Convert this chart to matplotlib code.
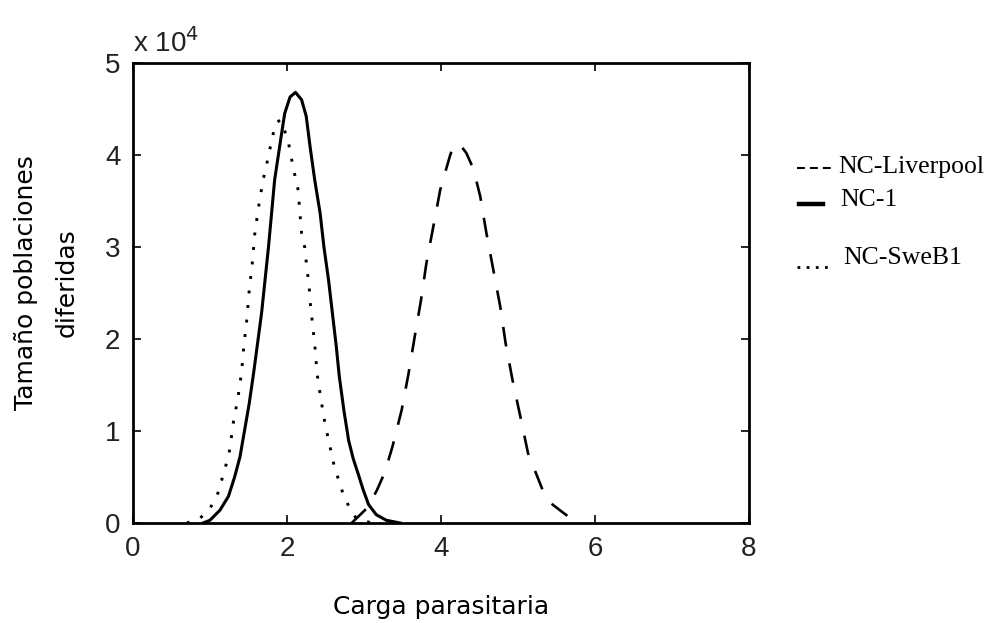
import matplotlib
matplotlib.use("Agg")
import matplotlib.pyplot as plt
from matplotlib.lines import Line2D
from matplotlib.ticker import FuncFormatter

# curve readings, x = carga parasitaria, y = tamaño (unidades de 1e4)
nc1_x = [0.91, 1.00, 1.13, 1.24, 1.32, 1.39, 1.45, 1.51, 1.57, 1.67, 1.76, 1.84, 1.91,
         1.97, 2.04, 2.11, 2.19, 2.25, 2.30, 2.36, 2.43, 2.48, 2.54, 2.59, 2.64, 2.68,
         2.74, 2.80, 2.86, 2.93, 2.99, 3.06, 3.16, 3.29, 3.47]
nc1_y = [0.00, 0.03, 0.14, 0.29, 0.50, 0.72, 1.01, 1.30, 1.65, 2.28, 3.00, 3.73, 4.12,
         4.45, 4.63, 4.68, 4.60, 4.42, 4.09, 3.73, 3.37, 3.00, 2.64, 2.28, 1.92, 1.59,
         1.22, 0.90, 0.70, 0.52, 0.36, 0.20, 0.09, 0.03, 0.00]

swe_x = [0.70, 0.87, 1.00, 1.09, 1.14, 1.19, 1.24, 1.27, 1.29, 1.32, 1.36, 1.38, 1.41,
         1.44, 1.48, 1.51, 1.55, 1.58, 1.63, 1.69, 1.73, 1.77, 1.81, 1.84, 1.91, 2.00,
         2.04, 2.07, 2.11, 2.15, 2.16, 2.19, 2.23, 2.25, 2.29, 2.30, 2.34, 2.36, 2.39,
         2.44, 2.49, 2.54, 2.58, 2.62, 2.68, 2.73, 2.81, 2.90, 3.10]
swe_y = [0.00, 0.05, 0.16, 0.29, 0.43, 0.58, 0.72, 0.87, 1.02, 1.18, 1.33, 1.47, 1.63,
         1.93, 2.22, 2.53, 2.83, 3.13, 3.43, 3.73, 3.87, 4.04, 4.17, 4.33, 4.38, 4.20,
         4.05, 3.91, 3.75, 3.60, 3.45, 3.15, 3.00, 2.84, 2.55, 2.41, 2.10, 1.95, 1.63,
         1.35, 1.10, 0.90, 0.75, 0.59, 0.45, 0.31, 0.17, 0.05, 0.00]

liv_x = [2.84, 3.05, 3.17, 3.27, 3.37, 3.49, 3.58, 3.66, 3.74, 3.81, 3.90, 3.99, 4.12,
         4.16, 4.24, 4.33, 4.42, 4.51, 4.59, 4.68, 4.77, 4.84, 4.93, 5.03, 5.13, 5.31,
         5.45, 5.59, 5.72]
liv_y = [0.00, 0.17, 0.36, 0.55, 0.83, 1.23, 1.63, 2.03, 2.42, 2.82, 3.22, 3.62, 4.00,
         4.09, 4.12, 4.02, 3.85, 3.55, 3.15, 2.75, 2.35, 1.95, 1.55, 1.16, 0.76, 0.38,
         0.20, 0.11, 0.03]

legend_names = ["NC-Liverpool", "NC-1", "NC-SweB1"]

SCALE = 1e4
x_ticks = [0, 2, 4, 6, 8]
y_ticks = [0, 1, 2, 3, 4, 5]

fig = plt.figure(figsize=(9.96, 6.23), dpi=100)
ax = fig.add_axes([0.1335, 0.1605, 0.6185, 0.7385])

ax.plot(liv_x, [v * SCALE for v in liv_y], color="black", lw=1.9,
        linestyle=(0, (7.5, 6.5)))
ax.plot(nc1_x, [v * SCALE for v in nc1_y], color="black", lw=2.2)
ax.plot(swe_x, [v * SCALE for v in swe_y], color="black", lw=2.1,
        linestyle=(0, (1, 4)))

ax.set_xlim(0, 8)
ax.set_ylim(0, 5 * SCALE)
ax.set_xticks(x_ticks)
ax.set_yticks([t * SCALE for t in y_ticks])
ax.yaxis.set_major_formatter(FuncFormatter(lambda v, p: f"{v / SCALE:g}"))
ax.tick_params(direction="in", length=6, width=1.2, top=True, right=True,
               labelsize=20, colors="black", labelcolor="#222222", pad=9)
for lab in ax.get_xticklabels() + ax.get_yticklabels():
    lab.set_family("Liberation Sans")
for sp in ax.spines.values():
    sp.set_linewidth(2.0)

fig.text(0.1335, 1 - 52 / 623, "x 10$^4$", fontsize=20, family="Liberation Sans",
         color="#222222", ha="left", va="baseline")

label_font = dict(family="DejaVu Sans", fontsize=18, color="black")
ax.set_xlabel("Carga parasitaria", labelpad=24, **label_font)
fig.text(0.026, 1 - 283 / 623, "Tamaño poblaciones", rotation=90, ha="center",
         va="center", **label_font)
fig.text(0.067, 1 - 283 / 623, "diferidas", rotation=90, ha="center", va="center",
         **label_font)

# hand-made legend at the right
leg_font = dict(family="Liberation Serif", fontsize=18.5, color="black", va="center")
fig.text(838 / 996, 1 - 167 / 623, legend_names[0], **leg_font)
fig.add_artist(Line2D([797 / 996, 832 / 996], [1 - 168 / 623, 1 - 168 / 623],
                      transform=fig.transFigure, color="black", lw=1.5,
                      linestyle=(0, (3.8, 2.4))))
fig.text(840 / 996, 1 - 200 / 623, legend_names[1], **leg_font)
fig.add_artist(Line2D([799 / 996, 823 / 996], [1 - 204 / 623, 1 - 204 / 623],
                      transform=fig.transFigure, color="black", lw=3.2))
fig.text(843 / 996, 1 - 258 / 623, legend_names[2], **leg_font)
fig.add_artist(Line2D([797 / 996, 833 / 996], [1 - 267 / 623, 1 - 267 / 623],
                      transform=fig.transFigure, color="black", lw=2.0,
                      linestyle=(0, (1, 2.3))))

fig.savefig("out.png", dpi=100, facecolor="white")
